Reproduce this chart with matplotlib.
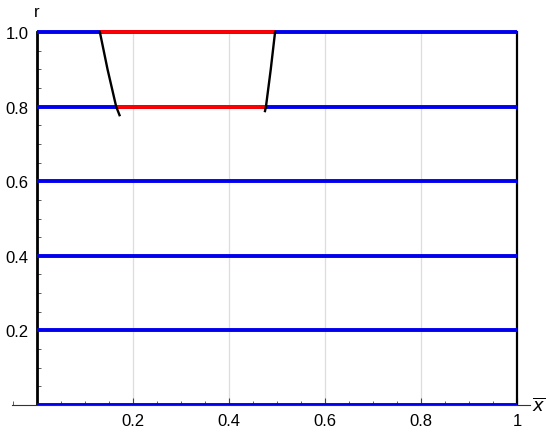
import numpy as np
import matplotlib.pyplot as plt
from matplotlib.ticker import MultipleLocator, FixedLocator

plt.rcParams['font.family'] = ['Liberation Sans', 'DejaVu Sans']

# horizontal levels of r
levels = [0.0, 0.2, 0.4, 0.6, 0.8, 1.0]
# red segments: (r, x start, x end)
red_r = [1.0, 0.8]
red_x0 = [0.131, 0.165]
red_x1 = [0.496, 0.477]
# black boundary curves
left_x = [0.131, 0.139, 0.147, 0.156, 0.165, 0.172]
left_r = [1.0, 0.95, 0.90, 0.85, 0.80, 0.777]
right_x = [0.496, 0.4915, 0.487, 0.482, 0.477, 0.475]
right_r = [1.0, 0.95, 0.90, 0.85, 0.80, 0.788]

xticks = [0.2, 0.4, 0.6, 0.8, 1.0]
xtick_labels = ['0.2', '0.4', '0.6', '0.8', '1']
yticks = [0.2, 0.4, 0.6, 0.8, 1.0]
ytick_labels = ['0.2', '0.4', '0.6', '0.8', '1.0']

fig = plt.figure(figsize=(5.5, 4.35), dpi=100)
ax = fig.add_axes([12/550, 1 - 406/435, 518/550, 396/435])
ax.set_xlim(-0.052, 1.027)
ax.set_ylim(0, 396/373)

for s in ['top', 'right']:
    ax.spines[s].set_visible(False)
ax.spines['left'].set_position(('data', 0))
ax.spines['left'].set_visible(False)
ax.spines['bottom'].set_position(('data', 0))
ax.spines['bottom'].set_color('#333333')
ax.spines['bottom'].set_linewidth(0.8)

# grid
for gx in [0.2, 0.4, 0.6, 0.8]:
    ax.plot([gx, gx], [0, 1.0], color='#dddddd', lw=0.9, zorder=0)

# black verticals at x=0 and x=1
ax.plot([0, 0], [0, 1.0], color='black', lw=2, zorder=2)
ax.plot([1, 1], [0, 1.0], color='black', lw=1.6, zorder=2)

for r in levels:
    ax.plot([0, 1], [r, r], color='#0000ee', lw=2.8, zorder=3, solid_capstyle='butt')
for r, a, b in zip(red_r, red_x0, red_x1):
    ax.plot([a, b], [r, r], color='#ff0000', lw=2.8, zorder=4, solid_capstyle='butt')

ax.plot(left_x, left_r, color='black', lw=1.7, zorder=5)
ax.plot(right_x, right_r, color='black', lw=1.7, zorder=5)

ax.xaxis.set_major_locator(FixedLocator(xticks))
ax.set_xticklabels(xtick_labels)
ax.xaxis.set_minor_locator(MultipleLocator(0.05))
ax.yaxis.set_major_locator(FixedLocator(yticks))
ax.set_yticklabels(ytick_labels)
ax.yaxis.set_minor_locator(FixedLocator(np.arange(0.05, 1.0, 0.05)))
ax.tick_params(axis='both', which='both', direction='in', color='#444444', labelsize=12)
ax.tick_params(axis='both', which='major', length=5, width=0.8, pad=6)
ax.tick_params(axis='both', which='minor', length=3, width=0.6)

ax.text(0, 1.035, 'r', ha='center', va='bottom', fontsize=12)
ax.text(1.045, 0.0, r'$\overline{x}$', ha='center', va='center', fontsize=13)

fig.savefig('out.png', dpi=100)
